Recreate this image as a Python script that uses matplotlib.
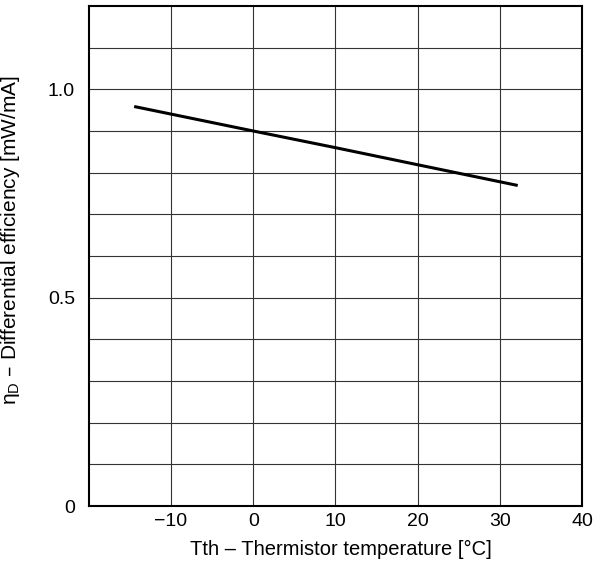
import matplotlib
matplotlib.use("Agg")
import matplotlib.pyplot as plt
import numpy as np

plt.rcParams['font.family'] = ['Liberation Sans', 'DejaVu Sans']

# Data
temperature = [-14.3, 0.0, 10.0, 20.0, 32.0]
efficiency = [0.958, 0.900, 0.860, 0.819, 0.770]

x_ticks = [-10, 0, 10, 20, 30, 40]
x_tick_labels = ['\u221210', '0', '10', '20', '30', '40']
y_ticks = [0, 0.5, 1.0]
y_tick_labels = ['0', '0.5', '1.0']

fig = plt.figure(figsize=(6.0, 5.69), dpi=100)
ax = fig.add_axes([0.148, 0.1107, 0.822, 0.8788])

ax.set_xlim(-20, 40)
ax.set_ylim(0, 1.2)

# grid
for gx in np.arange(-10, 40, 10):
    ax.axvline(gx, color='#333333', lw=0.8, zorder=1)
for gy in np.arange(0.1, 1.2, 0.1):
    ax.axhline(gy, color='#333333', lw=0.8, zorder=1)

ax.plot(temperature, efficiency, color='black', lw=2.2, zorder=3)

ax.set_xticks(x_ticks)
ax.set_xticklabels(x_tick_labels)
ax.set_yticks(y_ticks)
ax.set_yticklabels(y_tick_labels)
ax.tick_params(length=0, labelsize=14, colors='black')
ax.tick_params(axis='x', pad=5)
ax.tick_params(axis='y', pad=10)

for s in ax.spines.values():
    s.set_linewidth(1.5)
    s.set_color('black')

ax.set_xlabel('Tth \u2013 Thermistor temperature [\u00b0C]', fontsize=14.5)
ax.xaxis.set_label_coords(0.511, -0.068)
ax.set_ylabel('\u03b7$_{\\mathregular{D}}$ \u2013 Differential efficiency [mW/mA]', fontsize=15)
ax.yaxis.set_label_coords(-0.135, 0.532)

fig.savefig('out.png', dpi=100)
